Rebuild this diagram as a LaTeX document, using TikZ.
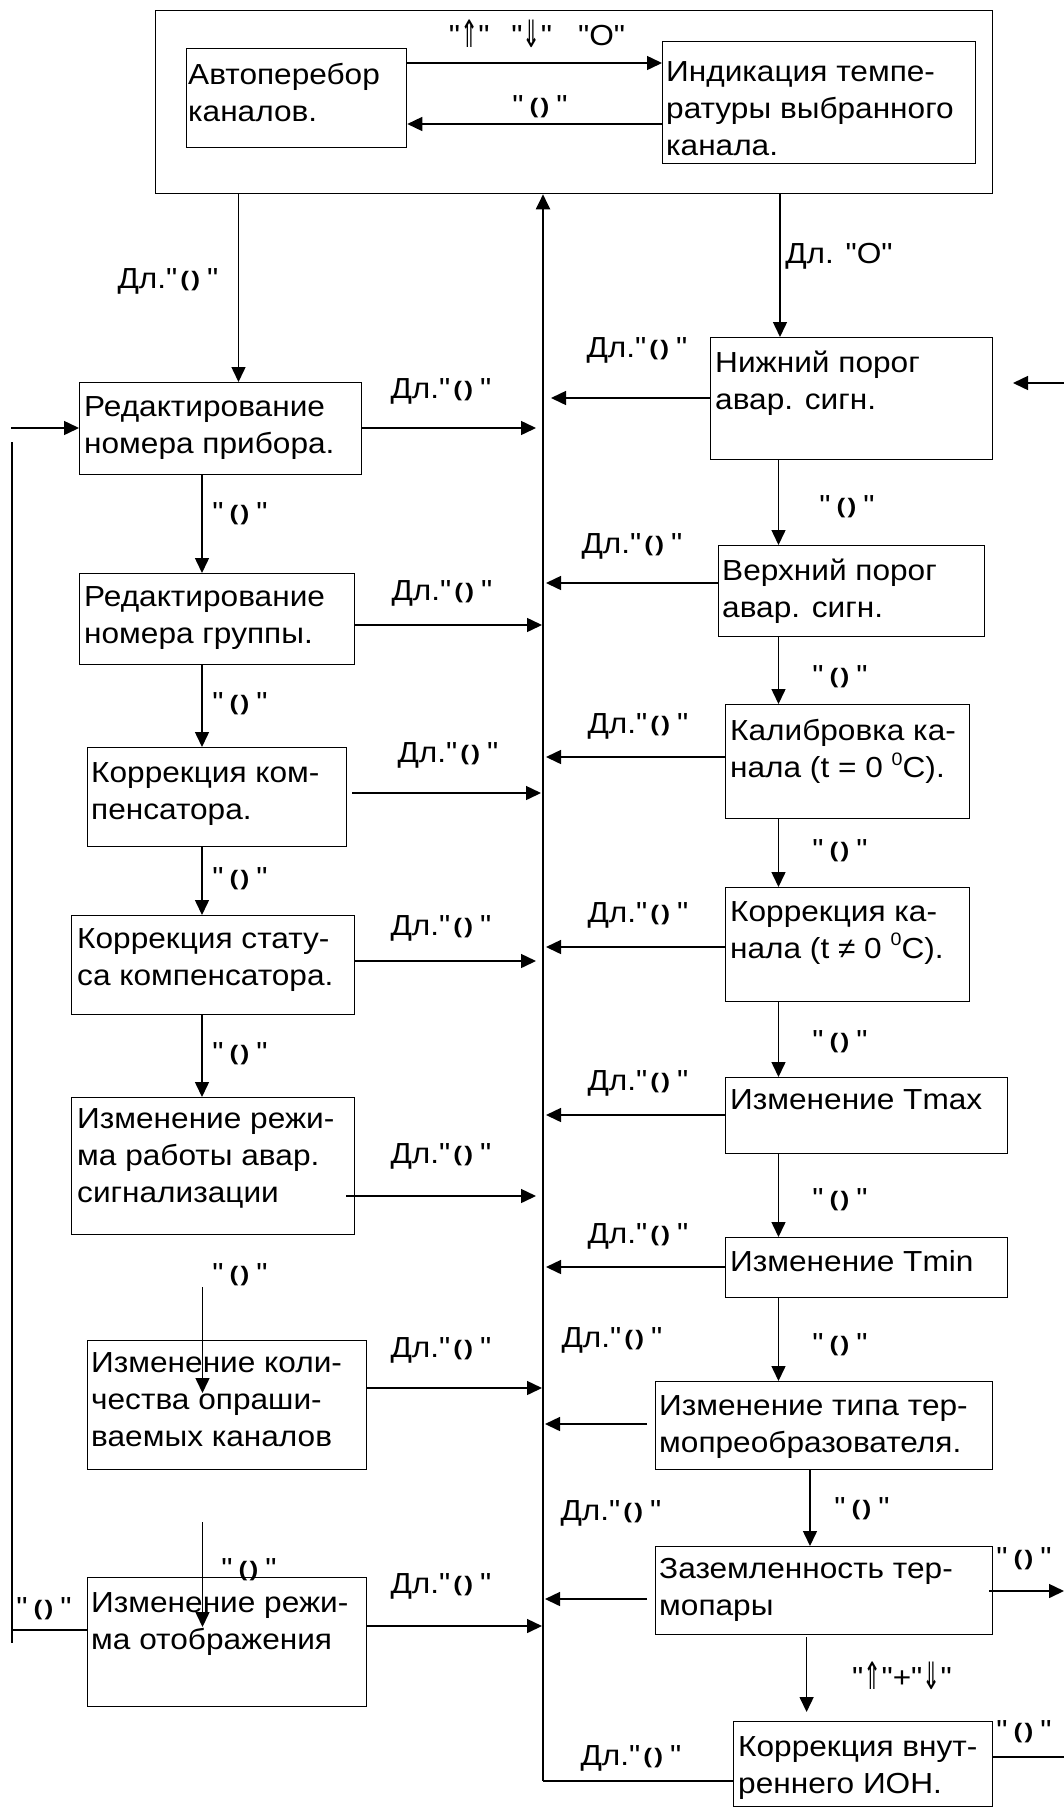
\documentclass[tikz,border=0pt]{standalone}
\usepackage{fontspec}
\setmainfont{Liberation Sans}[FakeStretch=1.09, Ligatures=TeXOff]
\newfontfamily\symf{DejaVu Sans}
\usetikzlibrary{arrows.meta}
\newcommand\mainfs{\fontsize{29}{37}\selectfont}
\newcommand\rotsym{\raisebox{2pt}{\bfseries\fontsize{21}{21}\selectfont\scalebox{1.15}[1]{(\kern2pt)}}}
\newcommand\arrUp{{\symf\raisebox{-2pt}{\scalebox{0.75}[1.3]{⇑}}}}
\newcommand\arrDn{{\symf\raisebox{-2pt}{\scalebox{0.75}[1.3]{⇓}}}}
\newcommand\supz{\raisebox{0.42em}{\fontsize{18}{18}\selectfont 0}}
\newcommand\kk{"\hspace{6pt}\rotsym\hspace{7pt}"}
\newcommand\dl{Дл."\hspace{3pt}\rotsym\hspace{7pt}"}
\begin{document}
\begin{tikzpicture}[x=1pt,y=-1pt,
  box/.style={draw, line width=1.3pt, inner sep=0pt, anchor=north west},
  txt/.style={inner sep=0pt, anchor=north west, align=left, font=\mainfs},
  lab/.style={inner sep=0pt, anchor=base, font=\mainfs},
  arr/.style={line width=1.5pt, -{Triangle[length=15pt,width=14pt]}},
  ln/.style={line width=1.5pt},
  mainln/.style={line width=2pt, -{Triangle[length=15pt,width=14pt]}}]
\useasboundingbox (0,0) rectangle (1064,1807);
% boxes
\node[box, minimum width=837pt, minimum height=183pt] (outer) at (155,10) {};
\node[box, minimum width=220pt, minimum height=99pt] (avto) at (186,48) {};
\node[box, minimum width=313pt, minimum height=122pt] (ind) at (662,41) {};
\node[box, minimum width=282pt, minimum height=92pt] (b1) at (79,382) {};
\node[box, minimum width=275pt, minimum height=91pt] (b2) at (79,573) {};
\node[box, minimum width=259pt, minimum height=99pt] (b3) at (87,747) {};
\node[box, minimum width=283pt, minimum height=99pt] (b4) at (71,915) {};
\node[box, minimum width=283pt, minimum height=137pt] (b5) at (71,1097) {};
\node[box, minimum width=279pt, minimum height=129pt] (b6) at (87,1340) {};
\node[box, minimum width=279pt, minimum height=129pt] (b7) at (87,1577) {};
\node[box, minimum width=282pt, minimum height=122pt] (r1) at (710,337) {};
\node[box, minimum width=266pt, minimum height=91pt] (r2) at (718,545) {};
\node[box, minimum width=244pt, minimum height=114pt] (r3) at (725,704) {};
\node[box, minimum width=244pt, minimum height=114pt] (r4) at (725,887) {};
\node[box, minimum width=282pt, minimum height=76pt] (r5) at (725,1077) {};
\node[box, minimum width=282pt, minimum height=60pt] (r6) at (725,1237) {};
\node[box, minimum width=337pt, minimum height=88pt] (r7) at (655,1381) {};
\node[box, minimum width=337pt, minimum height=88pt] (r8) at (655,1546) {};
\node[box, minimum width=259pt, minimum height=85pt] (r9) at (733,1721) {};
% box texts
\node[txt] (tavto) at (188,63) {Автоперебор\\каналов.};
\node[txt] (tind) at (666,61) {Индикация темпе-\\ратуры выбранного\\канала.};
\node[txt] (t1) at (84,396) {Редактирование\\номера прибора.};
\node[txt] (t2) at (84,586) {Редактирование\\номера группы.};
\node[txt] (t3) at (91,762) {Коррекция ком-\\пенсатора.};
\node[txt] (t4) at (77,928) {Коррекция стату-\\са компенсатора.};
\node[txt] (t5) at (77,1108) {Изменение режи-\\ма работы авар.\\сигнализации};
\node[txt] (t6) at (91,1352) {Изменение коли-\\чества опраши-\\ваемых каналов};
\node[txt] (t7) at (91,1592) {Изменение режи-\\ма отображения};
\node[txt] (tr1) at (715,351) {Нижний порог\\авар. сигн.};
\node[txt] (tr2) at (722,559) {Верхний порог\\авар. сигн.};
\node[txt] (tr3) at (730,719) {Калибровка ка-\\нала (t = 0 \supz C).};
\node[txt] (tr4) at (730,901) {Коррекция ка-\\нала (t ≠ 0 \supz C).};
\node[txt] (tr5) at (730,1089) {Изменение Tmax};
\node[txt] (tr6) at (730,1250) {Изменение Tmin};
\node[txt] (tr7) at (659,1395) {Изменение типа тер-\\мопреобразователя.};
\node[txt] (tr8) at (659,1558) {Заземленность тер-\\мопары};
\node[txt] (tr9) at (738,1736) {Коррекция внут-\\реннего ИОН.};
% coordinates
\coordinate (ya) at (0,63);
\coordinate (yb) at (0,124);
\coordinate (D1) at (238.5,382);
\coordinate (D2) at (780,337);
\coordinate (cx) at (202,0);
\coordinate (rx) at (778.5,0);
\coordinate (rx2) at (810,0);
\coordinate (L1) at (536,428);
\coordinate (L2) at (542,625);
\coordinate (L3) at (541,793);
\coordinate (L4) at (536,961);
\coordinate (L5) at (536,1196);
\coordinate (L6) at (542,1388);
\coordinate (L7) at (542,1626);
\coordinate (R1) at (551,398);
\coordinate (R2) at (546,583);
\coordinate (R3) at (546,757);
\coordinate (R4) at (546,947);
\coordinate (R5) at (546,1115);
\coordinate (R6) at (546,1267);
\coordinate (R7) at (545,1424);
\coordinate (R8) at (545,1599);
\coordinate (mb) at (543,1781);
\coordinate (v1) at (202.5,1287);
\coordinate (v1e) at (202.5,1393);
\coordinate (v2) at (202.5,1522);
\coordinate (v2e) at (202.5,1627);
\coordinate (v3) at (806.6,1637);
\coordinate (v3e) at (806.6,1712);
\coordinate (e1) at (1064,383);
\coordinate (e1t) at (1013,383);
\coordinate (e2) at (1064,1591);
\coordinate (e3) at (1064,1757);
\coordinate (w1) at (11,428);
\coordinate (w2) at (12,442);
\coordinate (w3) at (12,1643);
\coordinate (w4) at (12,1630);
% top connectors
\draw[arr] (avto.east |- ya) -- (ind.west |- ya);
\draw[arr] (ind.west |- yb) -- (avto.east |- yb);
\draw[arr] (outer.south -| D1) -- (D1);
\draw[arr] (outer.south -| D2) -- (D2);
% main return line
\draw[mainln] (mb) -- (outer.south -| mb);
\draw[ln] (r9.west |- mb) -- (mb);
% left column to main
\draw[arr] (b1.east |- L1) -- (L1);
\draw[arr] (b2.east |- L2) -- (L2);
\draw[arr] ([xshift=5pt]b3.east |- L3) -- (L3);
\draw[arr] (b4.east |- L4) -- (L4);
\draw[arr] ([xshift=-9pt]b5.east |- L5) -- (L5);
\draw[arr] (b6.east |- L6) -- (L6);
\draw[arr] (b7.east |- L7) -- (L7);
% right column to main
\draw[arr] (r1.west |- R1) -- (R1);
\draw[arr] (r2.west |- R2) -- (R2);
\draw[arr] (r3.west |- R3) -- (R3);
\draw[arr] (r4.west |- R4) -- (R4);
\draw[arr] (r5.west |- R5) -- (R5);
\draw[arr] (r6.west |- R6) -- (R6);
\draw[arr] ([xshift=-8pt]r7.west |- R7) -- (R7);
\draw[arr] ([xshift=-8pt]r8.west |- R8) -- (R8);
% left column down
\draw[arr] (b1.south -| cx) -- (b2.north -| cx);
\draw[arr] (b2.south -| cx) -- (b3.north -| cx);
\draw[arr] (b3.south -| cx) -- (b4.north -| cx);
\draw[arr] (b4.south -| cx) -- (b5.north -| cx);
\draw[arr] (v1) -- (v1e);
\draw[arr] (v2) -- (v2e);
% right column down
\draw[arr] (r1.south -| rx) -- (r2.north -| rx);
\draw[arr] (r2.south -| rx) -- (r3.north -| rx);
\draw[arr] (r3.south -| rx) -- (r4.north -| rx);
\draw[arr] (r4.south -| rx) -- (r5.north -| rx);
\draw[arr] (r5.south -| rx) -- (r6.north -| rx);
\draw[arr] (r6.south -| rx) -- (r7.north -| rx);
\draw[arr] (r7.south -| rx2) -- (r8.north -| rx2);
\draw[arr] (v3) -- (v3e);
% right edge
\draw[arr] (e1) -- (e1t);
\draw[arr] ([xshift=-4pt]r8.east |- e2) -- (e2);
\draw[ln] (r9.east |- e3) -- (e3);
% left edge
\draw[arr] (w1) -- (b1.west |- w1);
\draw[ln] (w2) -- (w3);
\draw[ln] (b7.west |- w4) -- (w4);
% labels
\node[lab] (l0) at (537,45) {"\arrUp"\hspace{22pt}"\arrDn"\hspace{26pt}"O"};
\node[lab] (l1) at (540,115) {\kk};
\node[lab] (l2) at (168,288) {\dl};
\node[lab] (l3) at (839,263) {Дл. "O"};
\node[lab] (l4) at (441,398) {\dl};
\node[lab] (l5) at (637,357) {\dl};
\node[lab] (l6) at (240,522) {\kk};
\node[lab] (l7) at (847,515) {\kk};
\node[lab] (l8) at (632,553) {\dl};
\node[lab] (l9) at (442,600) {\dl};
\node[lab] (l10) at (240,712) {\kk};
\node[lab] (l11) at (840,685) {\kk};
\node[lab] (l12) at (638,733) {\dl};
\node[lab] (l13) at (448,762) {\dl};
\node[lab] (l14) at (240,887) {\kk};
\node[lab] (l15) at (840,859) {\kk};
\node[lab] (l16) at (638,922) {\dl};
\node[lab] (l17) at (441,935) {\dl};
\node[lab] (l18) at (240,1062) {\kk};
\node[lab] (l19) at (840,1050) {\kk};
\node[lab] (l20) at (638,1090) {\dl};
\node[lab] (l21) at (441,1163) {\dl};
\node[lab] (l22) at (840,1208) {\kk};
\node[lab] (l23) at (638,1243) {\dl};
\node[lab] (l24) at (240,1283) {\kk};
\node[lab] (l25) at (840,1353) {\kk};
\node[lab] (l26) at (612,1347) {\dl};
\node[lab] (l27) at (441,1357) {\dl};
\node[lab] (l28) at (862,1517) {\kk};
\node[lab] (l29) at (611,1520) {\dl};
\node[lab] (l30) at (249,1578) {\kk};
\node[lab] (l31) at (441,1593) {\dl};
\node[lab] (l32) at (44,1617) {\kk};
\node[lab] (l33) at (1024,1567) {\kk};
\node[lab] (l34) at (902,1687) {"\arrUp"+"\arrDn"};
\node[lab] (l35) at (631,1765) {\dl};
\node[lab] (l36) at (1024,1740) {\kk};
\end{tikzpicture}
\end{document}
